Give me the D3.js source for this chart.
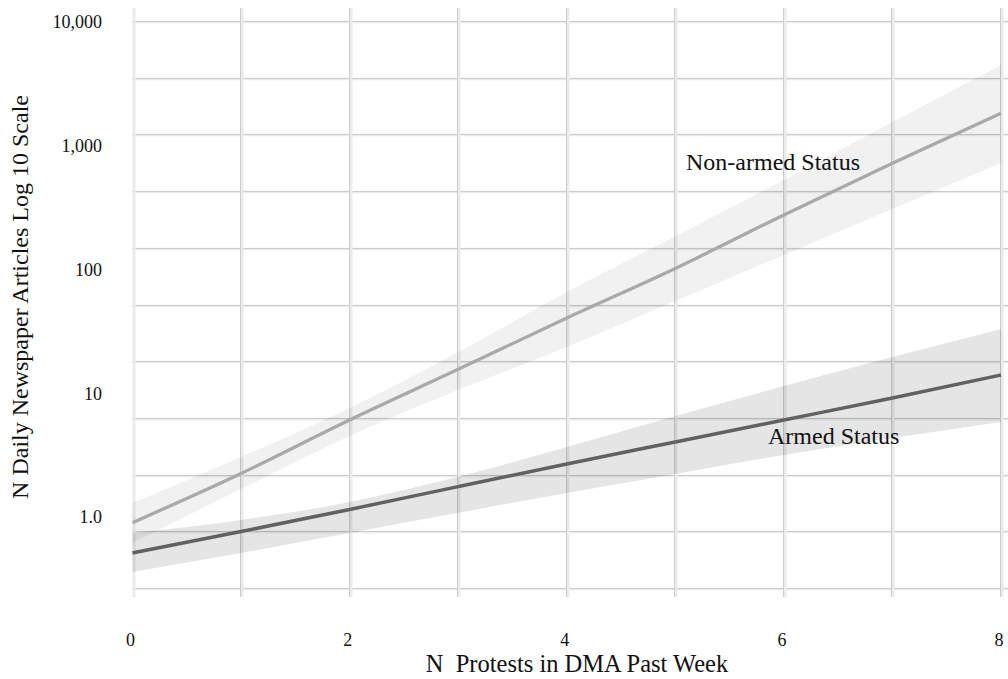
<!DOCTYPE html>
<html>
<head>
<meta charset="utf-8">
<script src="https://cdn.jsdelivr.net/npm/d3@7"></script>
<style>
  html, body { margin: 0; padding: 0; background: #fff; }
  svg { display: block; }
</style>
</head>
<body>
<div id="chart"></div>
<script>
// predicted daily articles by protest count
const protests = [0, 1, 2, 3, 4, 5, 6, 7, 8];
const nonArmedFit = [0.90, 2.25, 6.08, 15.6, 40.6, 102, 276, 721, 1830];
const nonArmedLow = [0.617, 1.68, 4.51, 10.6, 23.6, 55.7, 131, 308, 725];
const nonArmedHigh = [1.30, 3.05, 7.60, 21.5, 65.8, 186, 529, 1556, 4493];
const armedFit = [0.512, 0.763, 1.15, 1.76, 2.68, 4.04, 6.08, 9.15, 14.05];
const armedLow = [0.359, 0.512, 0.742, 1.08, 1.56, 2.23, 3.17, 4.35, 5.86];
const armedHigh = [0.742, 0.946, 1.32, 2.11, 3.68, 6.55, 11.45, 19.6, 33.0];

const yTicks = [1, 10, 100, 1000, 10000];
const yTickLabels = ['1.0', '10', '100', '1,000', '10,000'];
const xTicks = [0, 2, 4, 6, 8];
const gridRows = d3.range(11);

const W = 1008, H = 679;
const serif = 'Liberation Serif, Times New Roman, serif';

const svg = d3.select('#chart').append('svg')
  .attr('width', W).attr('height', H);

svg.append('rect').attr('width', W).attr('height', H).attr('fill', '#fff');

const x = d3.scaleLinear().domain([0, 8]).range([132.5, 1001]);
const y = d3.scaleLog().domain([1, 10000]).range([517, 22]);
const gridY = d3.scaleLinear().domain([0, 10]).range([21, 588]);

// Grid (double-line look: pale stripe + thin darker line)
const grid = svg.append('g');
gridRows.forEach(k => {
  const gy = Math.round(gridY(k));
  grid.append('line')
    .attr('x1', 132).attr('x2', W).attr('y1', gy + 1).attr('y2', gy + 1)
    .attr('stroke', '#ebebeb').attr('stroke-width', 2.5);
  grid.append('line')
    .attr('x1', 132).attr('x2', W).attr('y1', gy + 0.5).attr('y2', gy + 0.5)
    .attr('stroke', '#cdcdcd').attr('stroke-width', 1);
});
d3.range(0, 9).forEach(v => {
  const gx = Math.round(x(v));
  grid.append('line')
    .attr('x1', gx + 1).attr('x2', gx + 1).attr('y1', 8).attr('y2', 597)
    .attr('stroke', '#ebebeb').attr('stroke-width', 3);
  if (v > 0) {
    grid.append('line')
      .attr('x1', gx - 0.5).attr('x2', gx - 0.5).attr('y1', 8).attr('y2', 597)
      .attr('stroke', '#cdcdcd').attr('stroke-width', 1);
  }
});

const toRows = (fit, lo, hi) => protests.map((p, i) => ({ p, fit: fit[i], lo: lo[i], hi: hi[i] }));
const nonArmed = toRows(nonArmedFit, nonArmedLow, nonArmedHigh);
const armed = toRows(armedFit, armedLow, armedHigh);

const area = d3.area()
  .x(d => x(d.p)).y0(d => y(d.lo)).y1(d => y(d.hi))
  .curve(d3.curveMonotoneX);
const line = d3.line()
  .x(d => x(d.p)).y(d => y(d.fit))
  .curve(d3.curveMonotoneX);

svg.append('path').attr('d', area(nonArmed))
  .attr('fill', '#000').attr('fill-opacity', 0.055);
svg.append('path').attr('d', area(armed))
  .attr('fill', '#000').attr('fill-opacity', 0.1);

svg.append('path').attr('d', line(nonArmed))
  .attr('fill', 'none').attr('stroke', '#a9a9a9').attr('stroke-width', 3.3);
svg.append('path').attr('d', line(armed))
  .attr('fill', 'none').attr('stroke', '#616161').attr('stroke-width', 3.5);

// Y tick labels
svg.append('g').selectAll('text')
  .data(yTicks)
  .join('text')
  .attr('x', 102)
  .attr('y', d => y(d))
  .attr('dy', '0.36em')
  .attr('text-anchor', 'end')
  .attr('font-family', serif)
  .attr('font-size', 18)
  .attr('fill', '#111')
  .text((d, i) => yTickLabels[i]);

// X tick labels
svg.append('g').selectAll('text')
  .data(xTicks)
  .join('text')
  .attr('x', d => x(d) - 2)
  .attr('y', 646)
  .attr('text-anchor', 'middle')
  .attr('font-family', serif)
  .attr('font-size', 18)
  .attr('fill', '#111')
  .text(d => d);

// Axis titles
svg.append('text')
  .attr('x', 577).attr('y', 672)
  .attr('text-anchor', 'middle')
  .attr('font-family', serif)
  .attr('font-size', 24.5)
  .attr('fill', '#111')
  .attr('xml:space', 'preserve')
  .text('N  Protests in DMA Past Week');

svg.append('text')
  .attr('transform', 'translate(28,297) rotate(-90)')
  .attr('text-anchor', 'middle')
  .attr('font-family', serif)
  .attr('font-size', 24)
  .attr('fill', '#111')
  .text('N Daily Newspaper Articles Log 10 Scale');

// Series labels
svg.append('text')
  .attr('x', 686).attr('y', 170)
  .attr('font-family', serif).attr('font-size', 24).attr('fill', '#111')
  .text('Non-armed Status');
svg.append('text')
  .attr('x', 768).attr('y', 444)
  .attr('font-family', serif).attr('font-size', 24).attr('fill', '#111')
  .text('Armed Status');
</script>
</body>
</html>
